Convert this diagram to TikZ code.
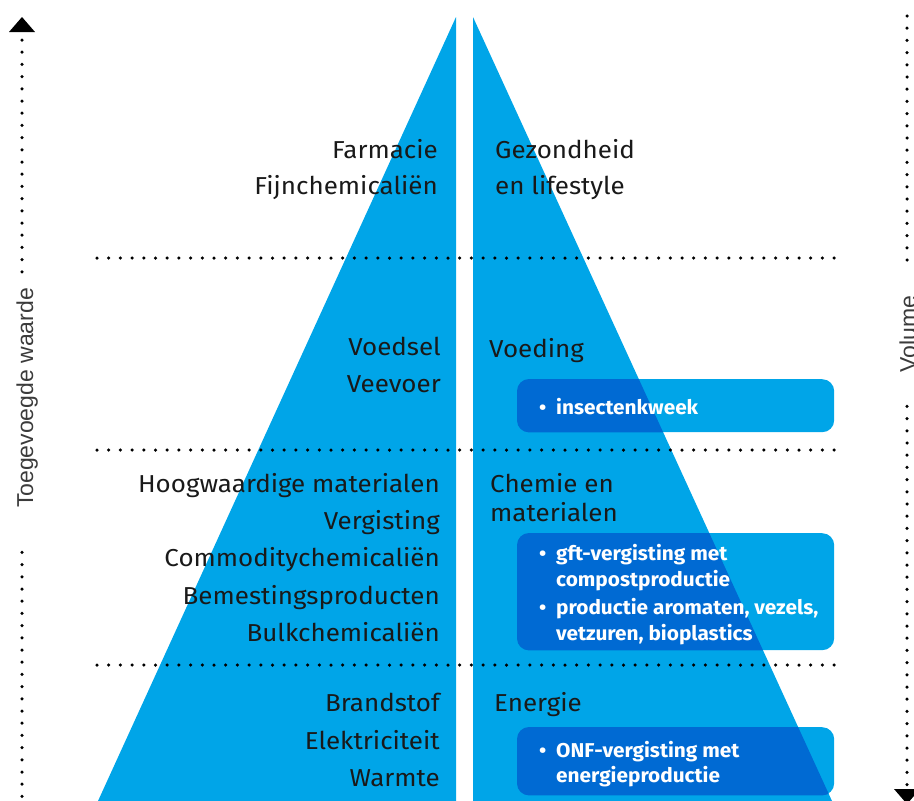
\documentclass[tikz,border=0pt]{standalone}
\usepackage{fontspec}
\setmainfont{Fira Sans}[FakeStretch=1.06]
\newfontfamily\boxfont{Fira Sans}[FakeStretch=1.04]
\newfontfamily\axisfont{Liberation Sans}
\definecolor{triblue}{RGB}{0,165,232}
\definecolor{boxdark}{RGB}{0,106,211}
\definecolor{txt}{RGB}{25,25,25}
\tikzset{
  lbl/.style={font=\fontsize{24.5}{28}\selectfont, inner sep=0pt, text=txt},
  lleft/.style={lbl, anchor=base east},
  lright/.style={lbl, anchor=base west},
  bt/.style={font=\boxfont\bfseries\fontsize{20}{24}\selectfont, inner sep=0pt, text=white, anchor=base west},
  boxnode/.style={fill=triblue, rounded corners=12pt, inner sep=0pt, anchor=north west},
  axis/.style={font=\axisfont\fontsize{23}{26}\selectfont, inner sep=0pt, text=txt!85, rotate=90, anchor=base},
  dotf/.style={fill=black}
}
\begin{document}
\begin{tikzpicture}[x=1pt,y=-1pt]
\useasboundingbox (0,0) rectangle (914,801);
% pyramid halves
\fill[triblue] (456,17) -- (456,801) -- (98,801) -- cycle;
\fill[triblue] (473,17) -- (473,801) -- (832,801) -- cycle;
% boxes
\node[boxnode, minimum width=317pt, minimum height=53pt] (b1) at (517,379) {};
\node[boxnode, minimum width=317pt, minimum height=117pt] (b2) at (517,533) {};
\node[boxnode, minimum width=317pt, minimum height=68pt] (b3) at (517,727) {};
\begin{scope}
  \clip (473,17) -- (473,801) -- (832,801) -- cycle;
  \foreach \b in {b1,b2,b3}
    \fill[boxdark, rounded corners=12pt] (\b.north west) rectangle (\b.south east);
\end{scope}
% horizontal dotted lines
\foreach \yy in {258,450,665}
  \foreach \k in {0,...,63}
    \fill[dotf] (97+\k*11.7,\yy) circle (1.75pt);
% left axis
\fill[black] (9,32) -- (35,32) -- (22,17) -- cycle;
\foreach \k in {0,...,19,42,43,...,62}
  \fill[dotf] (22,40+\k*12.2) circle (1.75pt);
\node[axis] (ax1) at (33,398) {Toegevoegde waarde};
% right axis
\fill[black] (894,789) -- (920,789) -- (907,804) -- cycle;
\foreach \k in {0,...,20,32,33,...,63}
  \fill[dotf] (907,16+\k*12.2) circle (1.75pt);
\node[axis] (ax2) at (916,334) {Volume};
% section 1
\node[lleft] (l11) at (438,158) {Farmacie};
\node[lleft] (l12) at (438,194) {Fijnchemicaliën};
\node[lright] (r11) at (495,158) {Gezondheid};
\node[lright] (r12) at (495,194) {en lifestyle};
% section 2
\node[lleft] (l21) at (441,355) {Voedsel};
\node[lleft] (l22) at (441,392) {Veevoer};
\node[lright] (r21) at (489,357) {Voeding};
\node[bt] (t11) at (539,414) {•};
\node[bt] (t12) at (556,414) {insectenkweek};
% section 3
\node[lleft] (l31) at (440,492) {Hoogwaardige materialen};
\node[lleft] (l32) at (440,529) {Vergisting};
\node[lleft] (l33) at (440,566) {Commoditychemicaliën};
\node[lleft] (l34) at (440,604) {Bemestingsproducten};
\node[lleft] (l35) at (440,641) {Bulkchemicaliën};
\node[lright] (r31) at (490,492) {Chemie en};
\node[lright] (r32) at (490,521) {materialen};
\node[bt] (t21) at (539,560) {•};
\node[bt] (t22) at (556,560) {gft-vergisting met};
\node[bt] (t23) at (556,586) {compostproductie};
\node[bt] (t24) at (539,614) {•};
\node[bt] (t25) at (556,614) {productie aromaten, vezels,};
\node[bt] (t26) at (556,640) {vetzuren, bioplastics};
% section 4
\node[lleft] (l41) at (440,711) {Brandstof};
\node[lleft] (l42) at (440,749) {Elektriciteit};
\node[lleft] (l43) at (440,786) {Warmte};
\node[lright] (r41) at (494,711) {Energie};
\node[bt] (t31) at (539,757) {•};
\node[bt] (t32) at (556,757) {ONF-vergisting met};
\node[bt] (t33) at (556,782) {energieproductie};
\end{tikzpicture}
\end{document}
